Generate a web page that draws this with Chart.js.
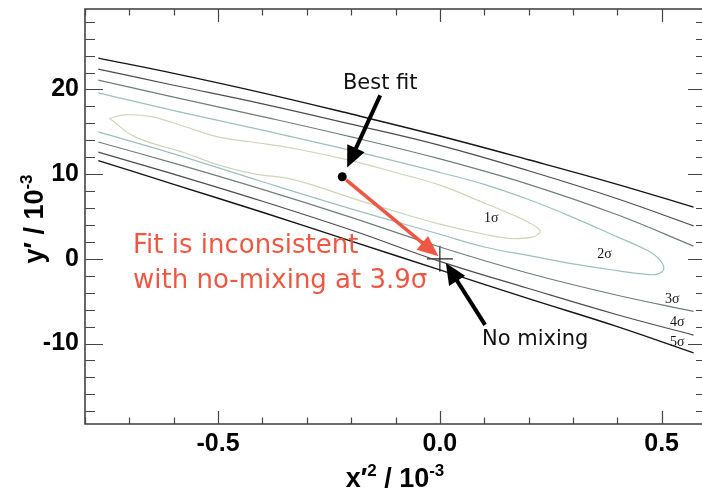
<!DOCTYPE html>
<html>
<head>
<meta charset="utf-8">
<script src="https://cdn.jsdelivr.net/npm/chart.js@4.4.1/dist/chart.umd.min.js"></script>
<style>
  html, body { margin: 0; padding: 0; background: #fff; overflow: hidden; }
  #wrap { width: 706px; height: 492px; position: relative; }
</style>
</head>
<body>
<div id="wrap"><canvas id="c"></canvas></div>
<script>
// ---- contour data: x'^2 and y' in units of 1e-3 ----
// open contours (3, 4, 5 sigma) sampled on a common x grid
const xGrid  = [-0.77, -0.6, -0.4, -0.2, 0.0, 0.2, 0.4, 0.572];
const upper5 = [23.7, 21.9, 19.6, 17.1, 14.5, 11.7, 8.8, 6.1];
const upper4 = [22.4, 20.5, 18.3, 15.9, 13.4, 10.4, 7.1, 3.9];
const upper3 = [21.1, 19.1, 16.8, 14.4, 11.8, 8.8, 5.2, 1.5];
const lower3 = [13.8, 11.3, 8.2, 4.9, 1.4, -1.7, -4.3, -6.2];
const lower4 = [12.6, 10.0, 6.8, 3.4, -0.3, -3.5, -6.6, -9.0];
const lower5 = [11.6, 8.8, 5.5, 2.1, -1.3, -4.7, -8.0, -11.1];

// 2 sigma: open on the left, closed on the right
const sigma2X = [-0.77, -0.6, -0.4, -0.2, 0.0, 0.1, 0.2, 0.3, 0.4, 0.46, 0.49, 0.505, 0.49, 0.46, 0.4, 0.3, 0.2, 0.1, 0.0, -0.2, -0.4, -0.6, -0.77];
const sigma2Y = [19.6, 17.5, 15.2, 12.8, 10.2, 8.8, 7.0, 4.9, 2.6, 1.2, 0.2, -1.1, -1.8, -1.8, -1.4, -0.6, 0.4, 1.4, 2.9, 5.9, 9.1, 12.4, 15.0];

// 1 sigma: closed contour
const sigma1X = [-0.745, -0.71, -0.65, -0.574, -0.5, -0.424, -0.326, -0.2, -0.1, 0.0, 0.1, 0.16, 0.2, 0.226, 0.21, 0.16, 0.1, 0.0, -0.1, -0.2, -0.326, -0.424, -0.5, -0.574, -0.687, -0.745];
const sigma1Y = [16.6, 17.0, 16.8, 15.6, 14.4, 13.8, 13.0, 11.6, 10.2, 8.7, 6.6, 5.3, 4.3, 3.3, 2.6, 2.4, 2.9, 4.1, 5.6, 7.2, 9.3, 10.1, 11.1, 12.5, 14.4, 16.6];

// fitted point and the no-mixing hypothesis
const bestFit  = [-0.22, 9.7];
const noMixing = [0.0, 0.0];

// axis ticks
const xTickValues = [-0.5, 0.0, 0.5];
const yTickValues = [-10, 0, 10, 20];

// contour labels [text, x, y]
const sigmaLabels = [
  ['1σ', 0.116, 4.8],
  ['2σ', 0.371, 0.5],
  ['3σ', 0.524, -4.8],
  ['4σ', 0.535, -7.55],
  ['5σ', 0.535, -9.8]
];

const pts = (xs, ys) => xs.map((x, i) => ({ x: x, y: ys[i] }));

function contour(xs, ys, color, width) {
  return {
    type: 'line',
    data: pts(xs, ys),
    borderColor: color,
    borderWidth: width,
    pointRadius: 0,
    fill: false,
    tension: 0.4
  };
}

function arrow(ctx, x0, y0, x1, y1, color, width, headLen, headHalf) {
  const a = Math.atan2(y1 - y0, x1 - x0);
  const c = Math.cos(a), s = Math.sin(a);
  const bx = x1 - headLen * c, by = y1 - headLen * s;
  ctx.save();
  ctx.strokeStyle = color;
  ctx.fillStyle = color;
  ctx.lineWidth = width;
  ctx.lineCap = 'butt';
  ctx.beginPath();
  ctx.moveTo(x0, y0);
  ctx.lineTo(bx + 2 * c, by + 2 * s);
  ctx.stroke();
  ctx.beginPath();
  ctx.moveTo(x1, y1);
  ctx.lineTo(bx - headHalf * s, by + headHalf * c);
  ctx.lineTo(bx + headHalf * s, by - headHalf * c);
  ctx.closePath();
  ctx.fill();
  ctx.restore();
}

// draws text made of normal and superscript pieces, centred on x
function richText(ctx, parts, x, y, size, supSize, rise) {
  const fontN = 'bold ' + size + 'px "Liberation Sans", Arial, sans-serif';
  const fontS = 'bold ' + supSize + 'px "Liberation Sans", Arial, sans-serif';
  let total = 0;
  parts.forEach(p => { ctx.font = p[1] ? fontS : fontN; total += ctx.measureText(p[0]).width; });
  let cx = x - total / 2;
  ctx.textAlign = 'left';
  ctx.textBaseline = 'alphabetic';
  parts.forEach(p => {
    ctx.font = p[1] ? fontS : fontN;
    ctx.fillText(p[0], cx, p[1] ? y - rise : y);
    cx += ctx.measureText(p[0]).width;
  });
}

const overlay = {
  id: 'overlay',
  afterDraw(chart) {
    const ctx = chart.ctx;
    const xs = chart.scales.x, ys = chart.scales.y;
    const ca = chart.chartArea;
    const px = v => xs.getPixelForValue(v);
    const py = v => ys.getPixelForValue(v);

    // frame
    ctx.save();
    ctx.strokeStyle = '#3a3a3a';
    ctx.lineWidth = 1.5;
    ctx.strokeRect(ca.left, ca.top, ca.right - ca.left, ca.bottom - ca.top);

    // inward tick marks on all four sides
    ctx.strokeStyle = '#444';
    ctx.lineWidth = 1.2;
    ctx.beginPath();
    for (let i = -8; i <= 6; i++) {
      const v = i / 10;
      const major = xTickValues.some(t => Math.abs(t - v) < 1e-9);
      const len = major ? 13 : 6.5;
      const x = Math.round(px(v)) + 0.5;
      ctx.moveTo(x, ca.bottom); ctx.lineTo(x, ca.bottom - len);
      ctx.moveTo(x, ca.top); ctx.lineTo(x, ca.top + len);
    }
    for (let v = -18; v <= 28; v += 2) {
      const major = yTickValues.indexOf(v) >= 0;
      const len = major ? 18 : 10;
      const y = Math.round(py(v)) + 0.5;
      ctx.moveTo(ca.left, y); ctx.lineTo(ca.left + len, y);
      ctx.moveTo(ca.right, y); ctx.lineTo(ca.right - len, y);
    }
    ctx.stroke();

    // arrows
    const bfx = px(bestFit[0]), bfy = py(bestFit[1]);
    const ang = Math.atan2(py(0.3) - bfy, px(-0.003) - bfx);
    arrow(ctx, bfx + 5 * Math.cos(ang), bfy + 5 * Math.sin(ang), px(-0.003), py(0.3), '#ee5843', 3.6, 21, 9);
    arrow(ctx, px(-0.1345), py(19.3), px(-0.209), py(10.8), '#000', 4, 21, 9.5);
    arrow(ctx, px(0.102), py(-7.8), px(0.0135), py(-0.5), '#000', 4, 21, 9.5);

    // annotation text
    ctx.fillStyle = '#111';
    ctx.textBaseline = 'alphabetic';
    ctx.textAlign = 'center';
    ctx.font = '21px "DejaVu Sans", sans-serif';
    ctx.fillText('Best fit', px(-0.1345), py(20.0));
    ctx.textAlign = 'left';
    ctx.fillText('No mixing', px(0.0949), py(-10.15));

    ctx.fillStyle = '#ee5843';
    ctx.font = '26px "DejaVu Sans", sans-serif';
    ctx.fillText('Fit is inconsistent', px(-0.6917), py(0.7));
    ctx.fillText('with no-mixing at 3.9σ', px(-0.6917), py(-3.4));

    // contour labels
    ctx.fillStyle = '#111';
    ctx.font = '14px "Liberation Serif", "DejaVu Serif", serif';
    ctx.textAlign = 'center';
    ctx.textBaseline = 'middle';
    sigmaLabels.forEach(l => ctx.fillText(l[0], px(l[1]), py(l[2])));

    // axis titles
    ctx.fillStyle = '#000';
    richText(ctx, [['x′', false], ['2', true], [' / 10', false], ['-3', true]], 395, 487, 27, 17, 11);
    ctx.save();
    ctx.translate(43, 219);
    ctx.rotate(-Math.PI / 2);
    richText(ctx, [['y′ / 10', false], ['-3', true]], 0, 0, 27, 17, 11);
    ctx.restore();

    ctx.restore();
  }
};

const tickFont = { family: '"Liberation Sans", Arial, sans-serif', size: 25, weight: 'bold' };

// keep the plot box fixed: no extra room reserved for overhanging tick labels
function noOverhang(s) {
  s.paddingLeft = 0; s.paddingRight = 0; s.paddingTop = 0; s.paddingBottom = 0;
}

new Chart(document.getElementById('c'), {
  type: 'scatter',
  data: {
    datasets: [
      contour(sigma1X, sigma1Y, '#cdd5b8', 1.2),
      contour(sigma2X, sigma2Y, '#9dbfbf', 1.2),
      contour(xGrid, upper3, '#6f7d7d', 1.2),
      contour(xGrid, lower3, '#6f7d7d', 1.2),
      contour(xGrid, upper4, '#4d4d4d', 1.2),
      contour(xGrid, lower4, '#4d4d4d', 1.2),
      contour(xGrid, upper5, '#151515', 1.4),
      contour(xGrid, lower5, '#151515', 1.4),
      {
        data: [{ x: bestFit[0], y: bestFit[1] }],
        pointRadius: 4.5,
        pointBackgroundColor: '#000',
        pointBorderColor: '#000',
        pointBorderWidth: 0
      },
      {
        data: [{ x: noMixing[0], y: noMixing[1] }],
        pointStyle: 'cross',
        pointRadius: 13,
        pointBorderColor: '#222',
        pointBorderWidth: 1.2
      }
    ]
  },
  options: {
    responsive: true,
    maintainAspectRatio: false,
    devicePixelRatio: 1,
    animation: false,
    events: [],
    layout: { autoPadding: false, padding: { top: 9, left: 0, right: 0, bottom: 0 } },
    plugins: { legend: { display: false }, tooltip: { enabled: false } },
    scales: {
      x: {
        type: 'linear',
        min: -0.8,
        max: 0.6,
        grid: { display: false, drawTicks: false },
        border: { display: false },
        afterBuildTicks: s => { s.ticks = xTickValues.map(v => ({ value: v })); },
        afterFit: s => { s.height = 68; noOverhang(s); },
        ticks: {
          autoSkip: false,
          maxRotation: 0,
          padding: 5,
          color: '#000',
          font: tickFont,
          callback: v => Number(v).toFixed(1)
        }
      },
      y: {
        type: 'linear',
        min: -19.5,
        max: 29.5,
        grid: { display: false, drawTicks: false },
        border: { display: false },
        afterBuildTicks: s => { s.ticks = yTickValues.map(v => ({ value: v })); },
        afterFit: s => { s.width = 85; noOverhang(s); },
        ticks: {
          autoSkip: false,
          padding: 6,
          color: '#000',
          font: tickFont,
          callback: v => String(v)
        }
      }
    }
  },
  plugins: [overlay]
});
</script>
</body>
</html>
